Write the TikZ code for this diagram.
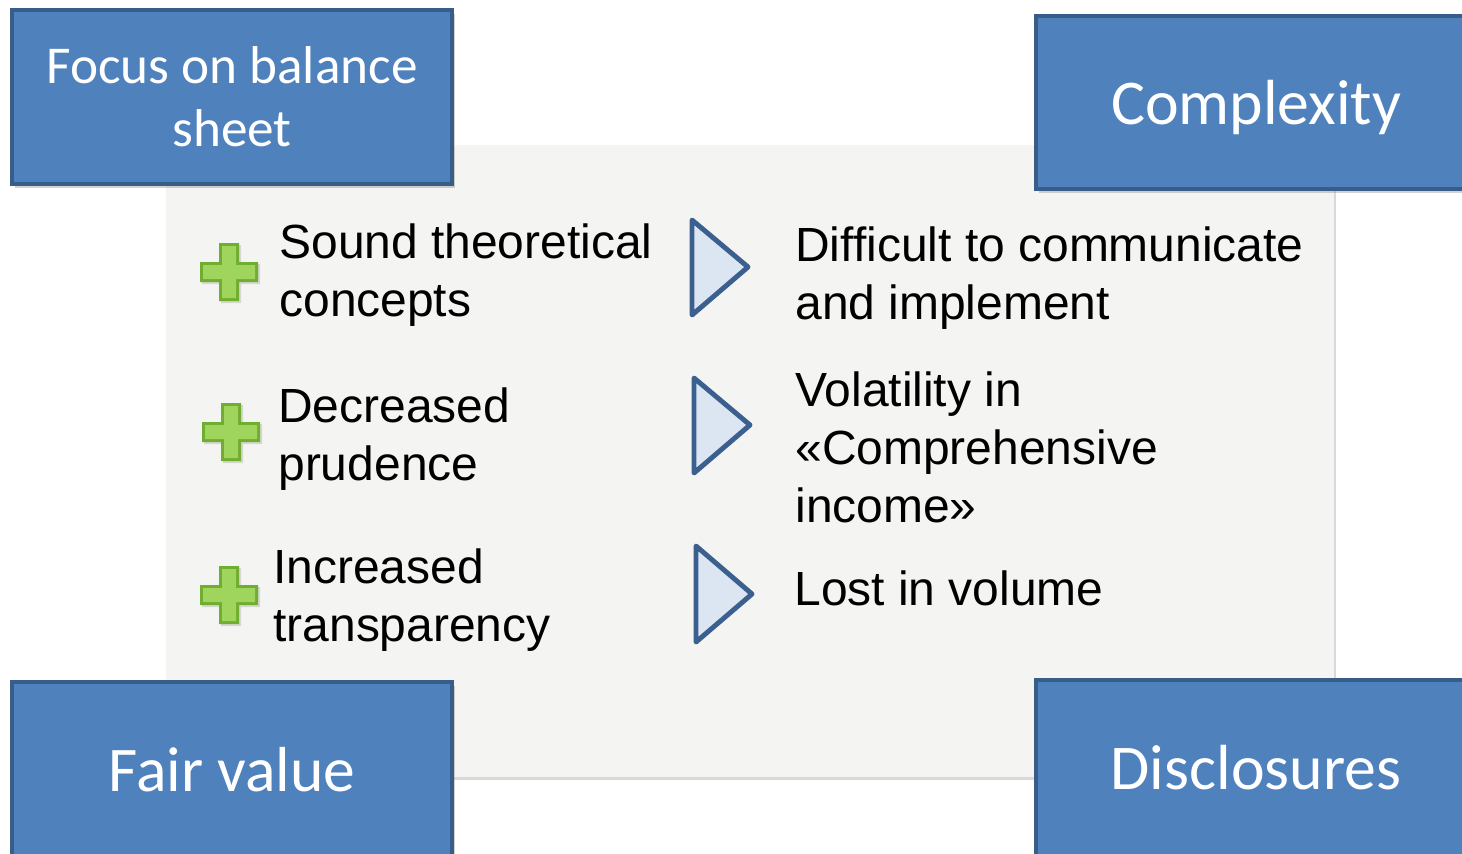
\documentclass[tikz,border=0pt]{standalone}
\usepackage{fontspec}
\setmainfont{Liberation Sans}
\newfontfamily\calibri{Carlito}
\usetikzlibrary{shadows}
\definecolor{boxblue}{HTML}{4F81BD}
\definecolor{boxline}{HTML}{385D8A}
\definecolor{panelgray}{HTML}{F4F4F2}
\definecolor{arrowline}{HTML}{3B6090}
\definecolor{arrowfill}{HTML}{DCE6F2}
\definecolor{plusdark}{HTML}{6FAE2E}
\definecolor{pluslight}{HTML}{9FD55C}

\begin{document}
\begin{tikzpicture}[x=0.02cm, y=-0.02cm,
    corner/.style={rectangle, fill=boxblue, draw=boxline, line width=2.3pt,
        minimum width=440*0.02cm, text=white, align=center,
        drop shadow={opacity=0.35, shadow xshift=1.5pt, shadow yshift=-2pt}},
    item/.style={anchor=west, align=left, font=\fontsize{27.3}{33}\selectfont, inner sep=0pt},
    pointer/.style={draw=arrowline, fill=arrowfill, line width=2.8pt, line join=round}]
    % Fix the page and cut off what runs past it
    \useasboundingbox (0,0) rectangle (1462,853);
    \clip (0,0) rectangle (1462,853);
    % Draw the gray panel
    \node[rectangle, fill=panelgray, minimum width=1168*0.02cm, minimum height=632*0.02cm,
        drop shadow={opacity=0.3, shadow xshift=1pt, shadow yshift=-1.5pt}] (panel) at (750,461) {};
    % Draw the plus signs
    \foreach \cx/\cy in {229/272, 231/432, 229/595} {
        \fill[black, opacity=0.12] (\cx-27,\cy-8) -- (\cx-8,\cy-8) -- (\cx-8,\cy-27) -- (\cx+12,\cy-27)
            -- (\cx+12,\cy-8) -- (\cx+31,\cy-8) -- (\cx+31,\cy+12) -- (\cx+12,\cy+12)
            -- (\cx+12,\cy+31) -- (\cx-8,\cy+31) -- (\cx-8,\cy+12) -- (\cx-27,\cy+12) -- cycle;
        \fill[plusdark] (\cx-29,\cy-10) -- (\cx-10,\cy-10) -- (\cx-10,\cy-29) -- (\cx+10,\cy-29)
            -- (\cx+10,\cy-10) -- (\cx+29,\cy-10) -- (\cx+29,\cy+10) -- (\cx+10,\cy+10)
            -- (\cx+10,\cy+29) -- (\cx-10,\cy+29) -- (\cx-10,\cy+10) -- (\cx-29,\cy+10) -- cycle;
        \fill[pluslight] (\cx-26,\cy-7) -- (\cx-7,\cy-7) -- (\cx-7,\cy-26) -- (\cx+7,\cy-26)
            -- (\cx+7,\cy-7) -- (\cx+26,\cy-7) -- (\cx+26,\cy+7) -- (\cx+7,\cy+7)
            -- (\cx+7,\cy+26) -- (\cx-7,\cy+26) -- (\cx-7,\cy+7) -- (\cx-26,\cy+7) -- cycle;
    }
    % Left column
    \node[item] (sound) at (279,275) {Sound theoretical\\concepts};
    \node[item] (prudence) at (278,439) {Decreased\\prudence};
    \node[item] (transp) at (273,600) {Increased\\transparency};
    % Draw the triangles
    \draw[pointer] (692,220) -- (748,267) -- (692,315) -- cycle;
    \draw[pointer] (694,378) -- (750,425) -- (694,473) -- cycle;
    \draw[pointer] (696,546) -- (752,594) -- (696,642) -- cycle;
    % Right column
    \node[item] (difficult) at (795,278) {Difficult to communicate\\and implement};
    \node[item] (volatility) at (795,447) {Volatility in\\«Comprehensive\\income»};
    \node[item] (lost) at (794,588) {Lost in volume};
    % Draw the four corner boxes
    \node[corner, minimum height=174*0.02cm, font=\calibri\fontsize{30.3}{36}\selectfont] (focus) at (232,97) {Focus on balance\\sheet};
    \node[corner, minimum height=173*0.02cm, text height=31pt, font=\calibri\fontsize{36.3}{40}\selectfont] (complexity) at (1256,102.5) {Complexity};
    \node[corner, minimum height=176*0.02cm, font=\calibri\fontsize{36.2}{40}\selectfont] (fair) at (232,770) {Fair value};
    \node[corner, minimum height=176*0.02cm, font=\calibri\fontsize{36.3}{40}\selectfont] (disclosures) at (1256,768) {Disclosures};
\end{tikzpicture}
\end{document}
